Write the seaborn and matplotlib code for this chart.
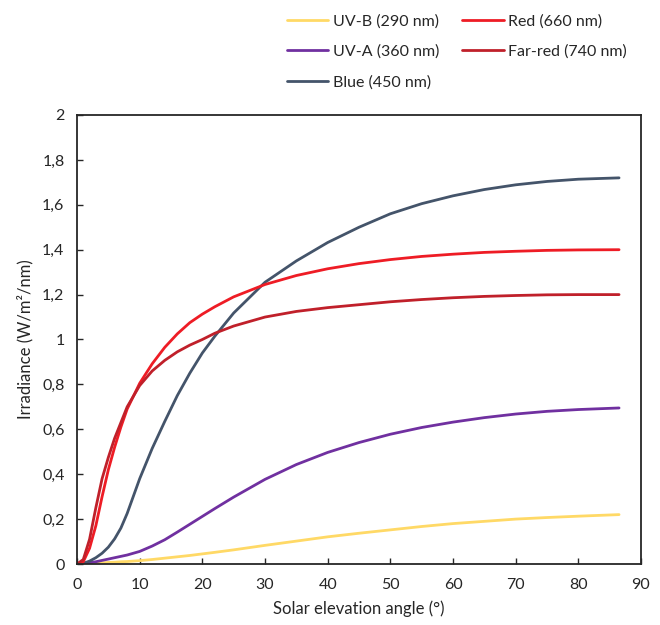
import pandas as pd
import matplotlib
matplotlib.use("Agg")
import matplotlib.pyplot as plt
from matplotlib.ticker import FuncFormatter, MultipleLocator
import seaborn as sns

# solar elevation angle (deg)
angle = [0, 1, 2, 3, 4, 5, 6, 7, 8, 10, 12, 14, 16, 18, 20, 22, 25, 30, 35,
         40, 45, 50, 55, 60, 65, 70, 75, 80, 86.5]

# irradiance (W/m2/nm) per wavelength
uvb = [0, 0.001, 0.002, 0.003, 0.005, 0.007, 0.008, 0.010, 0.011, 0.015, 0.020,
       0.026, 0.032, 0.038, 0.045, 0.052, 0.063, 0.083, 0.102, 0.121, 0.137,
       0.152, 0.167, 0.180, 0.190, 0.200, 0.207, 0.213, 0.220]
uva = [0, 0.002, 0.006, 0.010, 0.016, 0.022, 0.028, 0.034, 0.040, 0.056, 0.080,
       0.108, 0.142, 0.177, 0.212, 0.247, 0.298, 0.377, 0.443, 0.497, 0.541,
       0.578, 0.608, 0.632, 0.652, 0.668, 0.680, 0.688, 0.695]
blue = [0, 0.003, 0.013, 0.028, 0.048, 0.075, 0.112, 0.160, 0.225, 0.380, 0.515,
        0.635, 0.750, 0.850, 0.940, 1.015, 1.118, 1.255, 1.350, 1.432, 1.500,
        1.560, 1.605, 1.640, 1.668, 1.689, 1.704, 1.714, 1.720]
red = [0, 0.010, 0.070, 0.170, 0.300, 0.420, 0.520, 0.610, 0.690, 0.805, 0.892,
       0.965, 1.025, 1.075, 1.113, 1.146, 1.190, 1.245, 1.285, 1.315, 1.338,
       1.356, 1.370, 1.380, 1.388, 1.393, 1.397, 1.399, 1.400]
farred = [0, 0.020, 0.110, 0.250, 0.380, 0.475, 0.560, 0.630, 0.700, 0.795, 0.860,
          0.907, 0.945, 0.975, 1.000, 1.028, 1.060, 1.100, 1.125, 1.142, 1.155,
          1.168, 1.178, 1.186, 1.192, 1.196, 1.199, 1.200, 1.200]

labels = ["UV-B (290 nm)", "UV-A (360 nm)", "Blue (450 nm)", "Red (660 nm)", "Far-red (740 nm)"]
colors = ["#FFD966", "#7030A0", "#44546A", "#EE1C25", "#C0202A"]

sns.set_style("ticks")
plt.rcParams["font.family"] = ["Lato", "DejaVu Sans"]

df = pd.concat([
    pd.DataFrame({"angle": angle, "irr": vals, "band": lab})
    for vals, lab in zip([uvb, uva, blue, red, farred], labels)
])

fig = plt.figure(figsize=(6.6, 6.25), dpi=100)
ax = fig.add_axes([0.1167, 0.0976, 0.8545, 0.7184])
sns.lineplot(data=df, x="angle", y="irr", hue="band", hue_order=labels,
             palette=dict(zip(labels, colors)), lw=2.0, ax=ax, legend=False,
             estimator=None, sort=False, solid_joinstyle="round")

ax.set_xlim(0, 90)
ax.set_ylim(0, 2)
ax.xaxis.set_major_locator(MultipleLocator(10))
ax.yaxis.set_major_locator(MultipleLocator(0.2))
ax.yaxis.set_major_formatter(FuncFormatter(lambda v, p: f"{v:g}".replace(".", ",")))
ax.tick_params(direction="in", length=4, width=1.0, labelsize=11.5, colors="#262626")
ax.tick_params(axis="x", pad=10)
ax.tick_params(axis="y", pad=9)
for s in ax.spines.values():
    s.set_visible(True)
    s.set_color("#262626")
    s.set_linewidth(1.3)
ax.set_xlabel("Solar elevation angle (°)", fontsize=12, color="#262626", labelpad=6)
ax.set_ylabel("Irradiance (W/m²/nm)", fontsize=12, color="#262626", labelpad=6)

handles = [plt.Line2D([], [], color=c, lw=2.0) for c in colors]
fig.legend(handles, labels, loc="upper left", bbox_to_anchor=(0.413, 1.0),
           ncol=2, frameon=False, fontsize=11.5, handlelength=2.6,
           handletextpad=0.3, columnspacing=1.4, labelspacing=1.0)

fig.savefig("out.png", dpi=100)
